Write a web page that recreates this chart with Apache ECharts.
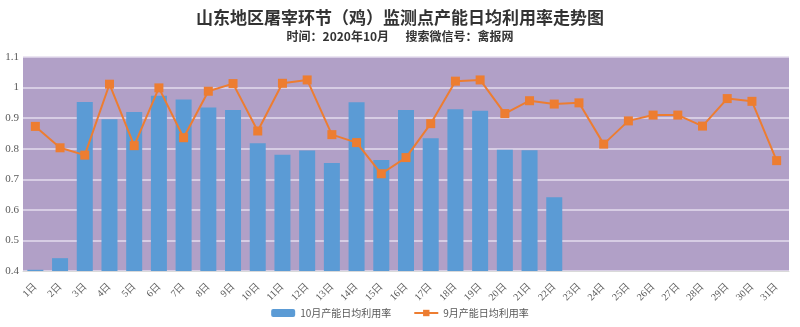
<!DOCTYPE html>
<html><head><meta charset="utf-8">
<script src="https://cdn.jsdelivr.net/npm/echarts@6/dist/echarts.min.js"></script>
<style>html,body{margin:0;padding:0;background:#fff}#c{width:800px;height:327px}</style>
</head><body><div id="c"></div>
<script>
const categories = ['1日','2日','3日','4日','5日','6日','7日','8日','9日','10日','11日','12日','13日','14日','15日','16日','17日','18日','19日','20日','21日','22日','23日','24日','25日','26日','27日','28日','29日','30日','31日'];
const octValues = [0.404,0.442,0.953,0.896,0.920,0.973,0.961,0.935,0.927,0.818,0.780,0.794,0.753,0.952,0.763,0.927,0.834,0.929,0.924,0.797,0.795,0.641];
const sepValues = [0.873,0.803,0.779,1.011,0.810,0.999,0.836,0.988,1.013,0.858,1.014,1.025,0.846,0.820,0.718,0.771,0.882,1.021,1.025,0.915,0.957,0.946,0.950,0.815,0.891,0.910,0.910,0.874,0.964,0.955,0.761];
const yTicks = [0.4,0.5,0.6,0.7,0.8,0.9,1,1.1];
const titleText = '山东地区屠宰环节（鸡）监测点产能日均利用率走势图';
const subText = '时间：2020年10月      搜索微信号：禽报网';
const seriesNames = ['10月产能日均利用率','9月产能日均利用率'];

const chart = echarts.init(document.getElementById('c'));
chart.setOption({
  animation:false,
  backgroundColor:'#fff',
  title:{
    text:titleText, subtext:subText, left:'center', top:4, itemGap:4,
    textStyle:{fontFamily:'Noto Sans CJK SC',fontSize:17,fontWeight:'bold',color:'#333'},
    subtextStyle:{fontFamily:'Noto Sans CJK SC',fontSize:12,fontWeight:'bold',color:'#333'}
  },
  legend:{
    bottom:4, left:'center', itemWidth:24, itemHeight:8, itemGap:22,
    textStyle:{fontFamily:'Noto Sans CJK SC',fontSize:10,color:'#595959'},
    data:seriesNames
  },
  grid:{left:23,right:11,top:57,bottom:56,show:true,backgroundColor:'#b1a0c7',borderWidth:0},
  xAxis:{
    type:'category', data:categories,
    axisLine:{show:true,lineStyle:{color:'#d9d9d9'}},
    axisTick:{show:false},
    axisLabel:{rotate:45,interval:0,fontFamily:'Liberation Serif',fontSize:10,color:'#595959',margin:14}
  },
  yAxis:{
    type:'value', min:0.4, max:1.1, interval:0.1,
    axisLine:{show:false}, axisTick:{show:false},
    axisLabel:{fontFamily:'Liberation Serif',fontSize:11,color:'#595959',margin:4,
      formatter:v=>{const r=Math.round(v*10)/10; return yTicks.includes(r)?String(r):'';}},
    splitLine:{lineStyle:{color:'#e4dcee',width:1.5}}
  },
  series:[
    {name:seriesNames[0],type:'bar',data:octValues,barWidth:16,
     itemStyle:{color:'#5b9bd5'}},
    {name:seriesNames[1],type:'line',data:sepValues,symbol:'rect',symbolSize:9,
     lineStyle:{color:'#ed7d31',width:2},itemStyle:{color:'#ed7d31'}}
  ]
});
</script></body></html>
